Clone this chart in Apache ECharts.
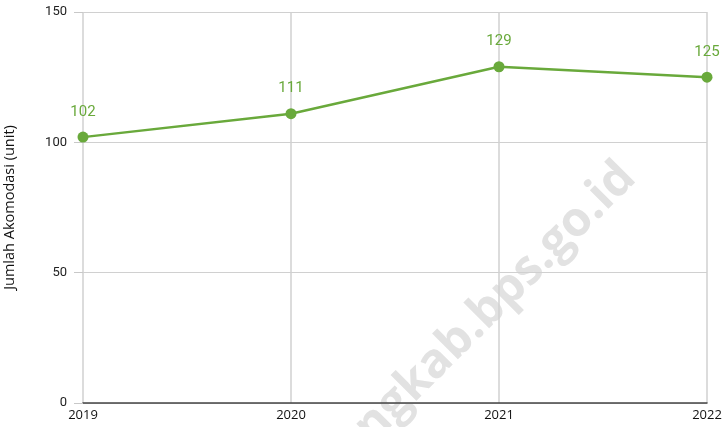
<!DOCTYPE html>
<html>
<head>
<meta charset="utf-8">
<script src="https://cdn.jsdelivr.net/npm/echarts@6/dist/echarts.min.js"></script>
<style>
html, body { margin: 0; padding: 0; background: #fff; }
#myChart { width: 724px; height: 427px; }
</style>
</head>
<body>
<div id="myChart"></div>
<script>
// data
const years = ['2019', '2020', '2021', '2022']
const akomodasi = [102, 111, 129, 125]
const yTicks = { min: 0, max: 150, interval: 50 }

const green = '#69a93b'

const myChart = echarts.init(document.getElementById('myChart'))
myChart.setOption({
  animation: false,
  grid: { left: 83, right: 17, top: 12, bottom: 24, outerBoundsMode: 'none', containLabel: false },
  xAxis: {
    type: 'category',
    data: years,
    boundaryGap: false,
    axisLine: { lineStyle: { color: '#444', width: 1.5 } },
    axisTick: { show: false },
    axisLabel: { color: '#111', fontSize: 13, fontFamily: 'Open Sans', margin: 6 },
    splitLine: { show: true, lineStyle: { color: '#d0d0d0', width: 1.5 } }
  },
  yAxis: {
    type: 'value',
    min: yTicks.min,
    max: yTicks.max,
    interval: yTicks.interval,
    name: 'Jumlah Akomodasi (unit)',
    nameLocation: 'middle',
    nameGap: 66,
    nameTextStyle: { color: '#111', fontSize: 14.5, fontFamily: 'Open Sans' },
    axisLine: { show: false },
    axisTick: { show: true, length: 9, lineStyle: { color: '#c8c8c8' } },
    axisLabel: { color: '#222', fontSize: 13, fontFamily: 'Roboto', margin: 16 },
    splitLine: { lineStyle: { color: '#d0d0d0', width: 1 } }
  },
  graphic: [
    {
      type: 'text',
      x: 628,
      y: 170,
      rotation: Math.PI / 4,
      style: {
        text: 'ngkab.bps.go.id',
        fill: '#e2e2e2',
        font: 'bold 48px "Open Sans"',
        textAlign: 'right',
        textVerticalAlign: 'middle'
      },
      z: -1
    }
  ],
  series: [
    {
      type: 'line',
      data: akomodasi,
      symbol: 'circle',
      symbolSize: 11,
      itemStyle: { color: green },
      lineStyle: { color: green, width: 2.5 },
      label: {
        show: true,
        position: 'top',
        distance: 12,
        color: green,
        fontSize: 15,
        fontFamily: 'Roboto'
      },
      z: 3
    }
  ]
})
</script>
</body>
</html>
